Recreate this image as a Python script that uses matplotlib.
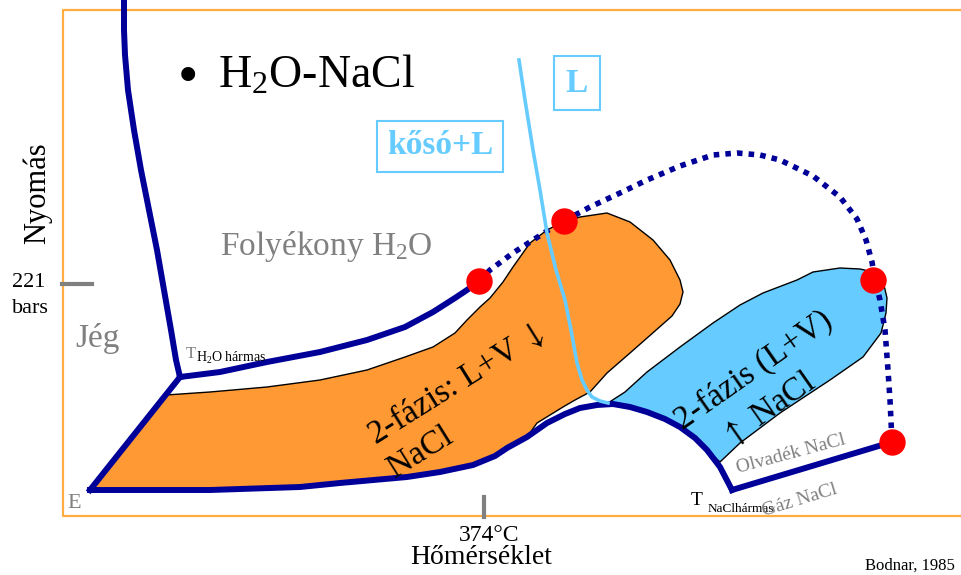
import matplotlib
matplotlib.use('Agg')
import matplotlib.pyplot as plt

plt.rcParams['font.family'] = ['Liberation Serif', 'DejaVu Serif']
plt.rcParams['mathtext.fontset'] = 'custom'
plt.rcParams['mathtext.rm'] = 'Liberation Serif'
plt.rcParams['mathtext.default'] = 'rm'

# schematic phase diagram, coordinates in picture units (x right, y down)
ice_x = [124, 124, 125, 128, 134, 141, 149, 157, 164, 171, 176, 180]
ice_y = [0, 30, 55, 90, 130, 170, 210, 250, 290, 330, 360, 377]

vap_x = [180, 220, 267, 320, 367, 405, 433, 455, 467, 479]
vap_y = [377, 372, 362, 352, 340, 327, 312, 298, 290, 281]

eut_x = [90, 180]
eut_y = [490, 377]

bottom_x = [90, 150, 210, 300, 340, 407, 440, 473, 495, 507, 527, 547, 565, 580,
            597, 613, 630, 647, 665, 680, 695, 707, 720, 732]
bottom_y = [490, 490, 490, 487, 483, 477, 472, 465, 456, 448, 437, 423, 414, 408,
            405, 404, 407, 412, 419, 427, 438, 450, 467, 490]

salt_x = [732, 892]
salt_y = [490, 442]

crit_x = [479, 490, 513, 530, 547, 564, 590, 620, 647, 680, 713, 737, 760, 780, 813,
          840, 857, 866, 872, 875, 880, 885, 888, 890, 892]
crit_y = [281, 270, 253, 242, 231, 221, 207, 193, 180, 166, 155, 153, 155, 160, 176,
          197, 219, 240, 262, 280, 300, 330, 370, 400, 442]

liq_x = [519, 525, 533, 540, 547, 556, 565, 571, 577, 582, 587, 592, 600, 608]
liq_y = [60, 100, 150, 190, 233, 270, 300, 330, 363, 380, 390, 397, 401, 403]

dots_x = [479, 564, 873, 892]
dots_y = [281, 221, 280, 442]

orange_x = [90, 166, 210, 267, 320, 367, 405, 433, 455, 467, 480, 490, 503, 513, 530,
            547, 563, 580, 607, 630, 653, 670, 680, 683, 680, 672, 655, 630, 607, 590,
            575, 563, 550, 537, 527, 507, 495, 473, 440, 407, 340, 300, 210, 150]
orange_y = [490, 395, 392, 387, 380, 370, 357, 347, 333, 320, 307, 298, 282, 267, 243,
            230, 222, 217, 213, 222, 240, 260, 280, 292, 304, 316, 331, 353, 373, 392,
            400, 407, 415, 423, 437, 448, 456, 465, 472, 477, 483, 487, 490, 490]

blue_x = [608, 625, 647, 680, 713, 740, 763, 797, 813, 840, 860, 873, 883, 887, 886,
          881, 863, 830, 780, 740, 720, 707, 695, 680, 665, 647, 630, 613]
blue_y = [403, 392, 372, 347, 323, 305, 293, 280, 272, 268, 269, 272, 281, 298, 313,
          333, 357, 380, 413, 443, 462, 450, 438, 427, 419, 412, 407, 404]

frame_x = [961, 63, 63, 961]
frame_y = [10, 10, 516, 516]

navy = '#000099'
lblue = '#66CCFF'
gray = '#808080'

fig = plt.figure(figsize=(9.61, 5.75), dpi=100)
ax = fig.add_axes([0, 0, 1, 1])
ax.set_xlim(0, 961)
ax.set_ylim(575, 0)
ax.axis('off')

ax.plot(frame_x, frame_y, color='#FFAD40', lw=1.6, zorder=0)

ax.fill(orange_x, orange_y, facecolor='#FF9933', edgecolor='black', lw=1, zorder=1)
ax.fill(blue_x, blue_y, facecolor=lblue, edgecolor='black', lw=1, zorder=1)

ax.plot(liq_x, liq_y, color=lblue, lw=2.6, zorder=3)

for xs, ys in [(ice_x, ice_y), (vap_x, vap_y), (eut_x, eut_y),
               (bottom_x, bottom_y), (salt_x, salt_y)]:
    ax.plot(xs, ys, color=navy, lw=4.3, solid_joinstyle='miter', zorder=2)
ax.plot(crit_x, crit_y, color=navy, lw=4, linestyle=(0, (1, 1.1)), zorder=2)
ax.plot(dots_x, dots_y, 'o', color='red', ms=18, zorder=4)

# gray ticks for 221 bars and 374 C
ax.plot([62, 92], [284, 284], color=gray, lw=3, zorder=2)
ax.plot([484, 484], [497, 517], color=gray, lw=3, zorder=2)

# texts
ax.text(188, 93, '•', fontsize=42, ha='center', va='baseline')
ax.text(218, 88, 'H$_2$O-NaCl', fontsize=33, ha='left', va='baseline')
ax.text(440, 146, 'kősó+L', fontsize=24, fontweight='bold', color=lblue,
        ha='center', va='center',
        bbox=dict(boxstyle='square,pad=0.3', fc='white', ec=lblue, lw=1.5))
ax.text(577, 83, 'L', fontsize=24, fontweight='bold', color=lblue,
        ha='center', va='center',
        bbox=dict(boxstyle='square,pad=0.35', fc='white', ec=lblue, lw=1.5))
ax.text(220, 255, 'Folyékony H$_2$O', fontsize=24, color=gray, ha='left', va='baseline')
ax.text(75, 347, 'Jég', fontsize=24, color=gray, ha='left', va='baseline')
ax.text(12, 287, '221', fontsize=16, ha='left', va='baseline')
ax.text(12, 313, 'bars', fontsize=16, ha='left', va='baseline')
ax.text(37, 193, 'Nyomás', fontsize=22, rotation=90, ha='center', va='center')
ax.text(489, 541, '374°C', fontsize=17, ha='center', va='baseline')
ax.text(481, 564, 'Hőmérséklet', fontsize=20, ha='center', va='baseline')
ax.text(67, 508, 'E', fontsize=16, color=gray, ha='left', va='baseline')
ax.text(186, 358, 'T', fontsize=12, color=gray, ha='left', va='baseline')
ax.text(196, 362, 'H$_2$O hármas', fontsize=10, ha='left', va='baseline')
ax.text(691, 505, 'T', fontsize=14, ha='left', va='baseline')
ax.text(708, 512, 'NaClhármas', fontsize=9.5, ha='left', va='baseline')
ax.text(738, 473, 'Olvadék NaCl', fontsize=14, color=gray, rotation=15,
        rotation_mode='anchor', ha='left', va='baseline')
ax.text(764, 516, 'Gáz NaCl', fontsize=14, color=gray, rotation=17,
        rotation_mode='anchor', ha='left', va='baseline')
ax.text(375, 445, '2-fázis: L+V $\\downarrow$', fontsize=24, rotation=32,
        math_fontfamily='stix', rotation_mode='anchor', ha='left', va='baseline')
ax.text(395, 478, 'NaCl', fontsize=24, rotation=32,
        rotation_mode='anchor', ha='left', va='baseline')
ax.text(683, 430, '2-fázis (L+V)', fontsize=24, rotation=35,
        rotation_mode='anchor', ha='left', va='baseline')
ax.text(730, 447, '$\\uparrow$ NaCl', fontsize=24, rotation=35,
        math_fontfamily='stix', rotation_mode='anchor', ha='left', va='baseline')
ax.text(955, 570, 'Bodnar, 1985', fontsize=12, ha='right', va='baseline')

fig.savefig('out.png', dpi=100)
